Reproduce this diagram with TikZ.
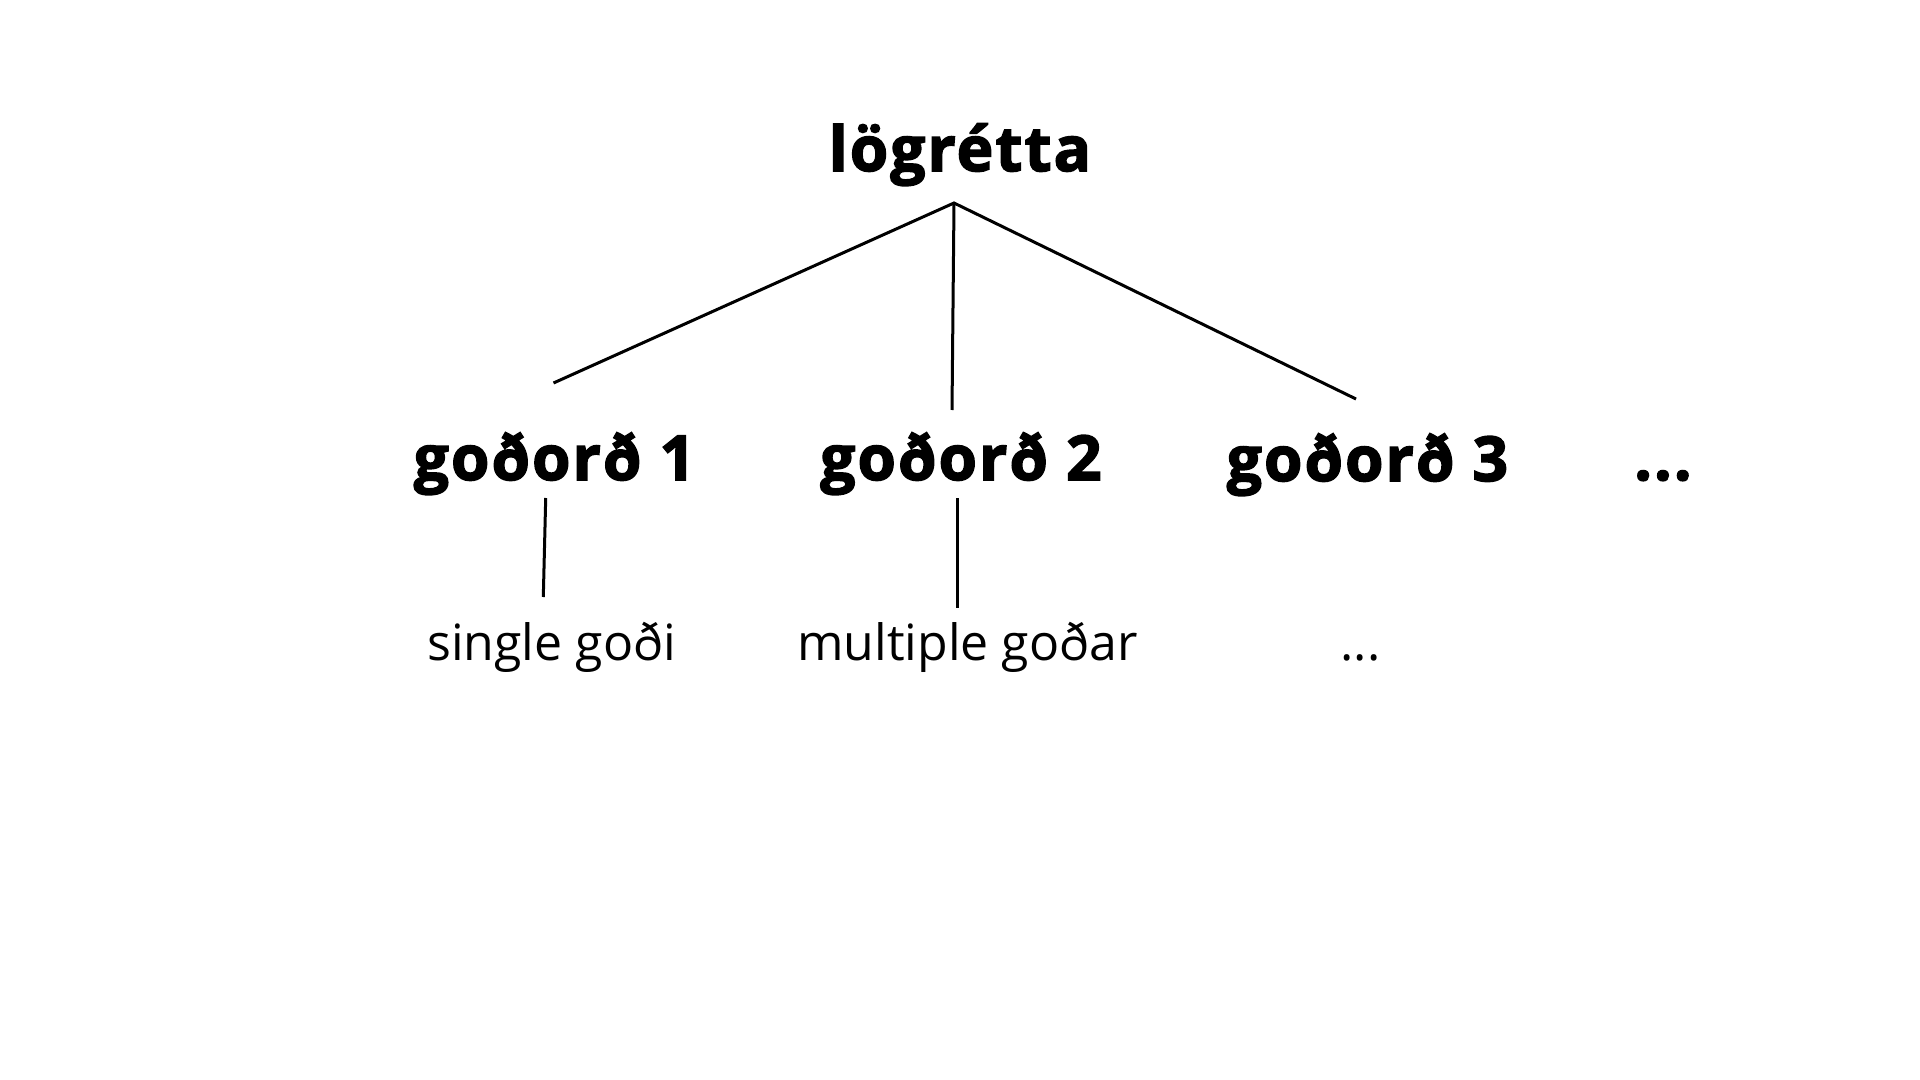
\documentclass[tikz,border=0pt]{standalone}
\usepackage{fontspec}
\setmainfont{Open Sans}[BoldFeatures={FakeBold=2.5,LetterSpace=3.5}]
\begin{document}
\begin{tikzpicture}[x=0.5pt,y=-0.5pt,
  big/.style={inner sep=0pt,anchor=base,font=\fontsize{31pt}{36pt}\selectfont\bfseries},
  small/.style={inner sep=0pt,anchor=base,font=\fontsize{25pt}{29pt}\selectfont},
  conn/.style={line width=1.5pt,black}]
\useasboundingbox[fill=white] (0,0) rectangle (1920,1080);
\node[big] (title) at (960,171) {lögrétta};
\node[big] (g1) at (554.5,480) {goðorð 1};
\node[big] (g2) at (961,480) {goðorð 2};
\node[big] (g3) at (1367.5,481) {goðorð 3};
\node[big] (gdots) at (1663,480) {...};
\node[small] (s1) at (551.5,660) {single goði};
\node[small] (s2) at (967.5,660) {multiple goðar};
\node[small] (s3) at (1360.5,660) {...};
\coordinate (apex) at (954,203);
\coordinate (g1top) at (553.5,383);
\coordinate (g2top) at (952,410);
\coordinate (g3top) at (1356,399);
\coordinate (g1bot) at (545.7,498);
\coordinate (s1top) at (543.3,597);
\coordinate (g2bot) at (957,498);
\coordinate (s2top) at (957,608);
\draw[conn] (g1top) -- (apex) -- (g3top);
\draw[conn] (apex) -- (g2top);
\draw[conn] (g1bot) -- (s1top);
\draw[conn] (g2bot) -- (s2top);
\end{tikzpicture}
\end{document}
